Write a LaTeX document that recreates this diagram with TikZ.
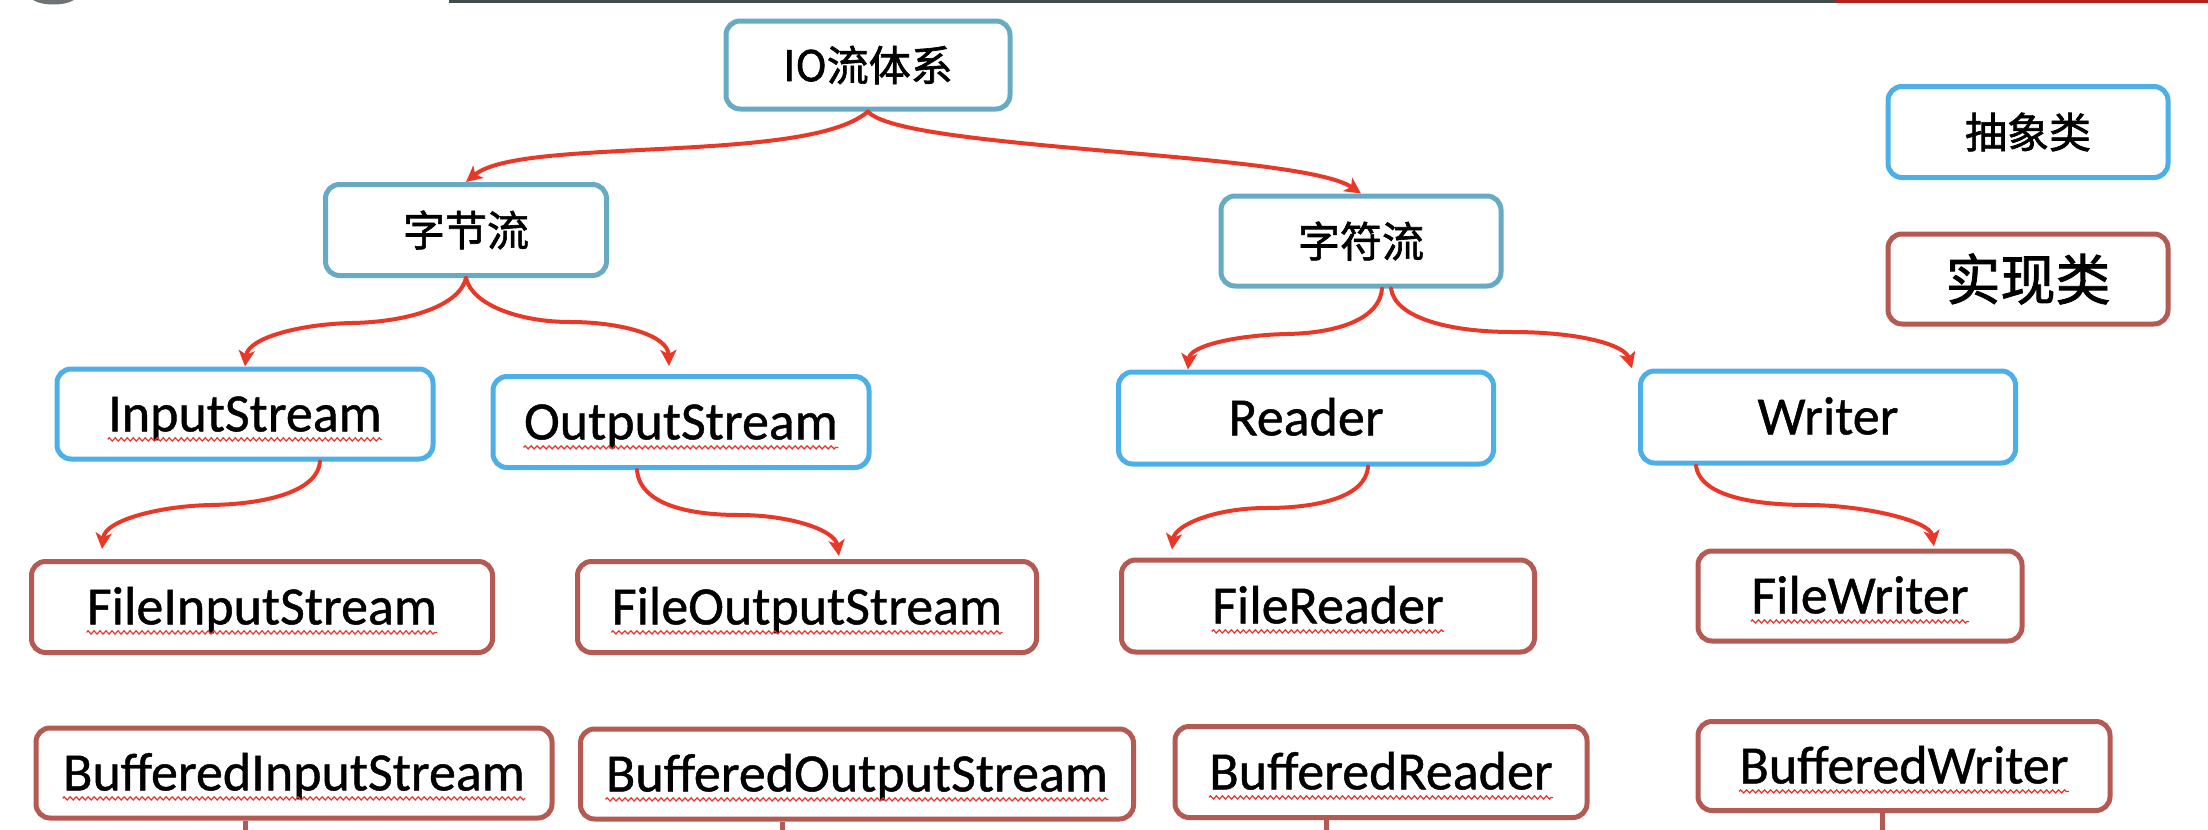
\documentclass[tikz,border=0pt]{standalone}
\usepackage{fontspec}
\setmainfont{Carlito}[FakeBold=0.8]
\newfontfamily\cjk{Noto Sans CJK SC}[FakeBold=1.5]
\usetikzlibrary{arrows.meta,decorations.pathmorphing}
\definecolor{topblue}{RGB}{103,170,196}
\definecolor{absblue}{RGB}{77,175,232}
\definecolor{implred}{RGB}{181,90,82}
\definecolor{arrred}{RGB}{234,56,40}
\definecolor{wavered}{RGB}{232,50,42}
\definecolor{bargray}{RGB}{66,75,75}
\definecolor{barred}{RGB}{180,32,26}
\definecolor{blobgray}{RGB}{110,115,118}
\begin{document}
\begin{tikzpicture}[x=0.5pt,y=-0.5pt,
  box/.style={rectangle, rounded corners=7pt, line width=2.5pt, fill=white, inner sep=0pt, text=black},
  cjkfont/.style={font=\cjk\fontsize{21pt}{25pt}\selectfont},
  topbox/.style={box, draw=topblue, cjkfont},
  absbox/.style={box, draw=absblue},
  implbox/.style={box, draw=implred},
  txt/.style={inner sep=0pt, anchor=base, text=black, font=\fontsize{27pt}{32pt}\selectfont},
  wave/.style={draw=wavered, line width=0.6pt, decorate, decoration={zigzag, segment length=3pt, amplitude=0.8pt}},
  arr/.style={draw=arrred, line width=2pt, line cap=round, -{Stealth[length=8pt,width=8pt,inset=2pt]}},
  stub/.style={draw=implred, line width=2.5pt},
]
\useasboundingbox (0,0) rectangle (2208,830);

% screenshot edge artifacts
\fill[bargray] (449,0) rectangle (1836,2.5);
\fill[barred] (1836,0) rectangle (2208,2.5);
\fill[blobgray] (33,0) .. controls (42,6) and (65,6) .. (74,0) -- cycle;

\coordinate (s1) at (245,830);
\coordinate (s2) at (782,830);
\coordinate (s3) at (1326,830);
\coordinate (s4) at (1882,830);

% boxes
\node[topbox, minimum width=142pt, minimum height=44pt] (io) at (868,65) {IO流体系};
\node[topbox, minimum width=140.5pt, minimum height=45.5pt] (zj) at (466,230) {字节流};
\node[topbox, minimum width=140pt, minimum height=45pt] (zf) at (1361,241) {字符流};

\node[box, draw=absblue, cjkfont, minimum width=140pt, minimum height=45.5pt] (lgabs) at (2028,132) {抽象类};
\node[box, draw=implred, font=\cjk\fontsize{27.5pt}{32pt}\selectfont, minimum width=140pt, minimum height=45pt] (lgimpl) at (2028,279) {实现类};

\node[absbox, minimum width=188pt, minimum height=45pt] (is) at (245,414) {};
\node[absbox, minimum width=188pt, minimum height=45.5pt] (os) at (681,422) {};
\node[absbox, minimum width=187.5pt, minimum height=46pt] (rd) at (1306,418) {};
\node[absbox, minimum width=187.5pt, minimum height=46pt] (wr) at (1828,417) {};

\node[implbox, minimum width=230.5pt, minimum height=45.5pt] (fis) at (262,607) {};
\node[implbox, minimum width=229.5pt, minimum height=45.5pt] (fos) at (807,607) {};
\node[implbox, minimum width=206.5pt, minimum height=46pt] (fr) at (1328,606) {};
\node[implbox, minimum width=162pt, minimum height=45pt] (fw) at (1860,596) {};

\node[implbox, minimum width=258pt, minimum height=45pt] (bis) at (294,773) {};
\node[implbox, minimum width=276.5pt, minimum height=45pt] (bos) at (857,774) {};
\node[implbox, minimum width=206pt, minimum height=45.5pt] (brd) at (1381,772) {};
\node[implbox, minimum width=206pt, minimum height=44.5pt] (bw) at (1904,766) {};

% texts
\node[txt] (tis) at ([yshift=-8.7pt]is.center) {InputStream};
\node[txt] (tos) at ([yshift=-8.7pt]os.center) {OutputStream};
\node[txt] (trd) at ([yshift=-8.7pt]rd.center) {Reader};
\node[txt] (twr) at ([yshift=-8.7pt]wr.center) {Writer};
\node[txt] (tfis) at ([yshift=-8.7pt]fis.center) {FileInputStream};
\node[txt] (tfos) at ([yshift=-8.7pt]fos.center) {FileOutputStream};
\node[txt] (tfr) at ([yshift=-8.7pt]fr.center) {FileReader};
\node[txt] (tfw) at ([yshift=-8.7pt]fw.center) {FileWriter};
\node[txt] (tbis) at ([yshift=-8.7pt]bis.center) {BufferedInputStream};
\node[txt] (tbos) at ([yshift=-8.7pt]bos.center) {BufferedOutputStream};
\node[txt] (tbrd) at ([yshift=-8.7pt]brd.center) {BufferedReader};
\node[txt] (tbw) at ([yshift=-8.7pt]bw.center) {BufferedWriter};

% spell-check underlines
\foreach \t in {tis,tos,tfis,tfos,tfr,tfw,tbis,tbos,tbrd,tbw}
  \draw[wave] ([yshift=-4pt]\t.base west) -- ([yshift=-4pt]\t.base east);

\draw[stub] ([xshift=-24.5pt]bis.south) -- (s1);
\draw[stub] ([xshift=-37.5pt]bos.south) -- (s2);
\draw[stub] ([xshift=-27.5pt]brd.south) -- (s3);
\draw[stub] ([xshift=-11pt]bw.south) -- (s4);

% connectors
\coordinate (m1) at (640,150);
\coordinate (m3) at (352,323);
\coordinate (m4) at (570,322);
\coordinate (m5) at (1287,334);
\coordinate (m6) at (1512,332);
\coordinate (m7) at (211,505);
\coordinate (m8) at (739,515);
\coordinate (m9) at (1266,508);
\coordinate (m10) at (1808,505);

\draw[arr] (io.south) .. controls (835,140) and (740,145) .. (m1) .. controls (560,154) and (495,158) .. (zj.north);
\draw[arr] (io.south) .. controls (900,150) and (1300,152) .. (zf.north);
\draw[arr] (zj.south) .. controls (460,305) and (410,322) .. (m3) .. controls (300,324) and (248,338) .. (is.north);
\draw[arr] (zj.south) .. controls (472,305) and (520,322) .. (m4) .. controls (620,322) and (668,335) .. ([xshift=-6pt,yshift=4pt]os.north);
\draw[arr] ([xshift=10.5pt]zf.south) .. controls (1380,318) and (1340,333) .. (m5) .. controls (1240,335) and (1190,345) .. ([xshift=-59pt]rd.north);
\draw[arr] ([xshift=15pt]zf.south) .. controls (1395,318) and (1450,332) .. (m6) .. controls (1580,332) and (1625,345) .. ([xshift=-3pt]wr.north west);
\draw[arr] ([xshift=37.5pt]is.south) .. controls (318,490) and (270,504) .. (m7) .. controls (160,506) and (105,520) .. ([xshift=-80pt,yshift=5pt]fis.north);
\draw[arr] ([xshift=-22pt]os.south) .. controls (640,505) and (690,515) .. (m8) .. controls (790,515) and (835,530) .. ([xshift=16pt,yshift=1.5pt]fos.north);
\draw[arr] ([xshift=31pt]rd.south) .. controls (1366,498) and (1315,508) .. (m9) .. controls (1215,508) and (1175,525) .. ([xshift=-78pt,yshift=4pt]fr.north);
\draw[arr] ([xshift=-66pt]wr.south) .. controls (1700,498) and (1760,505) .. (m10) .. controls (1860,505) and (1930,520) .. ([xshift=37pt,yshift=1pt]fw.north);
\end{tikzpicture}
\end{document}
